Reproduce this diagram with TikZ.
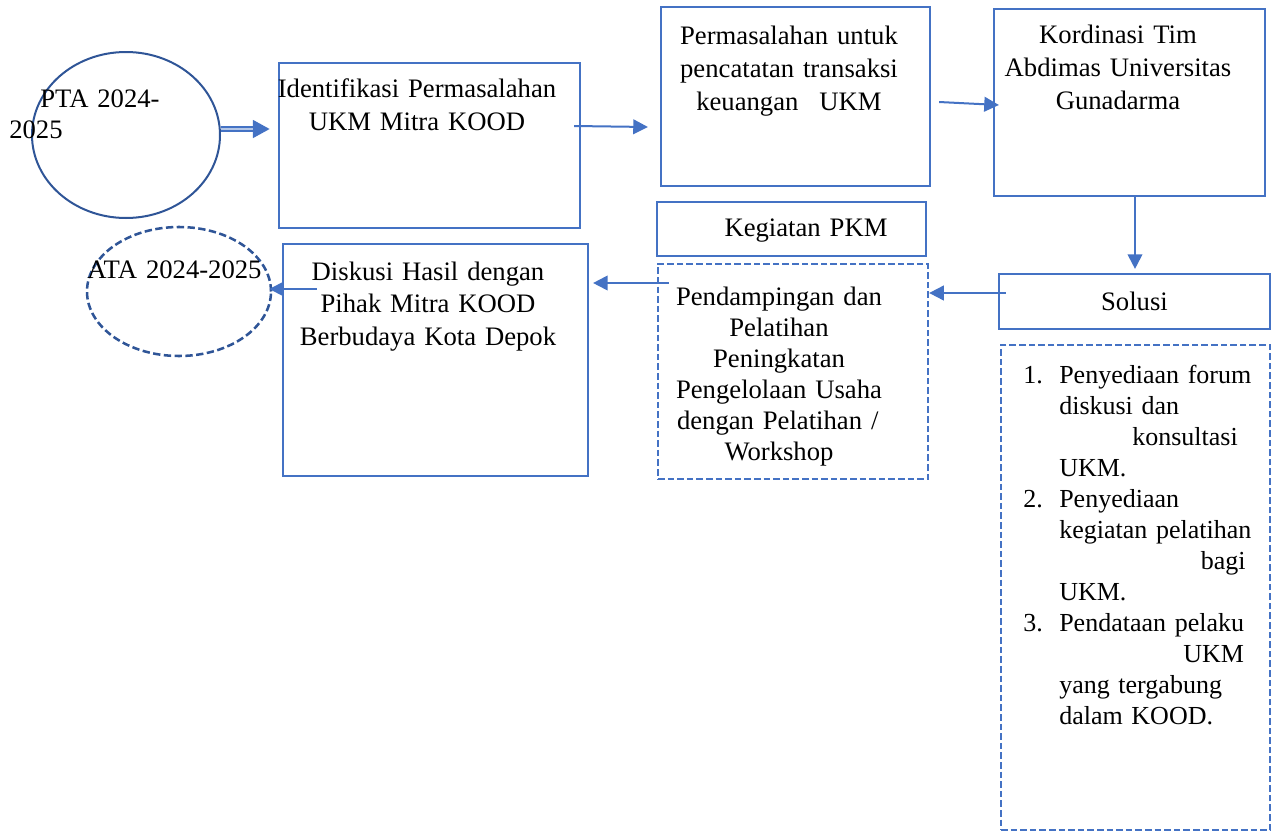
\documentclass[tikz,border=0pt]{standalone}
\usepackage{fontspec}
\setmainfont{Liberation Serif}
\usetikzlibrary{arrows.meta,shapes.geometric}
\definecolor{acc}{HTML}{4472C4}
\definecolor{dk}{HTML}{2F5597}
\definecolor{lt}{HTML}{B4C7E7}
\begin{document}
\begin{tikzpicture}[x=0.75pt,y=-0.75pt,
  box/.style={draw=acc, line width=1.6pt, rectangle, inner sep=0pt},
  dbox/.style={box, line width=1.7pt, dash pattern=on 5pt off 2.2pt},
  oval/.style={draw=dk, ellipse, inner sep=0pt},
  txt/.style={inner sep=0pt, align=center, anchor=base, font=\fontsize{20}{24.75}\selectfont},
  arr/.style={draw=acc, line width=1.5pt, -{Triangle[length=11pt,width=11pt]}},
  ]
\useasboundingbox (0,0) rectangle (1272,832);

% shapes
\node[oval, line width=1.5pt, minimum width=141pt, minimum height=124.5pt] (pta) at (126,135) {};
\node[oval, line width=1.9pt, dash pattern=on 5.5pt off 2.6pt, minimum width=138pt, minimum height=96.75pt] (ata) at (179,291.5) {};
\node[box, minimum width=225.75pt, minimum height=123.75pt] (ident) at (429.5,145.5) {};
\node[box, minimum width=201.75pt, minimum height=134.25pt] (perm) at (795.5,96.5) {};
\node[box, minimum width=203.25pt, minimum height=140.25pt] (kord) at (1129.5,102.5) {};
\node[box, minimum width=203.25pt, minimum height=41.25pt] (solusi) at (1134.5,301.5) {};
\node[box, minimum width=201.75pt, minimum height=40.5pt] (keg) at (791.5,229) {};
\node[dbox, minimum width=202.5pt, minimum height=161.25pt] (pend) at (793,371.5) {};
\node[box, minimum width=228.75pt, minimum height=174pt] (disk) at (435.5,360) {};
\node[dbox, minimum width=201.75pt, minimum height=363.75pt] (list) at (1135.5,587.5) {};

% texts
\node[txt, align=left, anchor=base west, text width=150pt, font=\fontsize{20}{23.25}\selectfont] (ptatxt) at (9,107) {\hspace*{23.25pt}PTA 2024-\\2025};
\node[txt, text width=230pt] (identtxt) at (417,97) {Identifikasi Permasalahan\\UKM Mitra KOOD};
\node[txt, text width=200pt] (permtxt) at (789,44) {Permasalahan untuk\\pencatatan transaksi\\keuangan\hspace{15.75pt}UKM};
\node[txt, text width=200pt] (kordtxt) at (1118,43) {Kordinasi Tim\\Abdimas Universitas\\Gunadarma};
\node[txt, text width=200pt] (kegtxt) at (806,236) {Kegiatan PKM};
\node[txt, text width=200pt] (solutxt) at (1134.5,310) {Solusi};
\node[txt, text width=190pt, font=\fontsize{20}{23.25}\selectfont] (pendtxt) at (779,305) {Pendampingan dan\\Pelatihan\\Peningkatan\\Pengelolaan Usaha\\\makebox[153pt][s]{dengan Pelatihan /}\\Workshop};
\node[txt, text width=228pt, font=\fontsize{20}{24.4}\selectfont] (disktxt) at (428,280) {Diskusi Hasil dengan\\Pihak Mitra KOOD\\Berbudaya Kota Depok};
\node[txt, text width=150pt] (atatxt) at (174.5,278) {ATA 2024-2025};
\node[txt, align=left, anchor=base west, text width=175pt, font=\fontsize{19.5}{23.25}\selectfont] (listtxt) at (1023,383)
 {\makebox[27pt][l]{1.}Penyediaan forum\\
  \hspace*{27pt}diskusi dan\\
  \hspace*{81.75pt}konsultasi\\
  \hspace*{27pt}UKM.\\
  \makebox[27pt][l]{2.}Penyediaan\\
  \hspace*{27pt}kegiatan pelatihan\\
  \hspace*{133.25pt}bagi\\
  \hspace*{27pt}UKM.\\
  \makebox[27pt][l]{3.}Pendataan pelaku\\
  \hspace*{120pt}UKM\\
  \hspace*{27pt}\makebox[127.5pt][s]{yang tergabung}\\
  \hspace*{27pt}\makebox[128pt][s]{dalam KOOD.}};

% connectors
\draw[acc, line width=4.2pt, -{Triangle[length=12.75pt,width=12.75pt]}] ([shift={(0,-6)}]pta.east) -- ([shift={(-8,-16.5)}]ident.west);
\draw[lt, line width=1.4pt, shorten >=12.5pt] ([shift={(0,-6)}]pta.east) -- ([shift={(-8,-16.5)}]ident.west);
\draw[arr] ([shift={(-7,-19.5)}]ident.east) -- ([shift={(-12,30.5)}]perm.west);
\draw[arr] ([shift={(8,5.5)}]perm.east) -- ([shift={(6,2.5)}]kord.west);
\draw[arr] ([shift={(5.5,0)}]kord.south) -- ([shift={(0.5,-4)}]solusi.north);
\draw[arr] ([shift={(8,-8.5)}]solusi.west) -- ([shift={(0,-78.5)}]pend.east);
\draw[arr] ([shift={(12,-88.5)}]pend.west) -- ([shift={(4,-77)}]disk.east);
\draw[arr] ([shift={(35,-71)}]disk.west) -- ([shift={(-3,-2.5)}]ata.east);
\end{tikzpicture}
\end{document}
